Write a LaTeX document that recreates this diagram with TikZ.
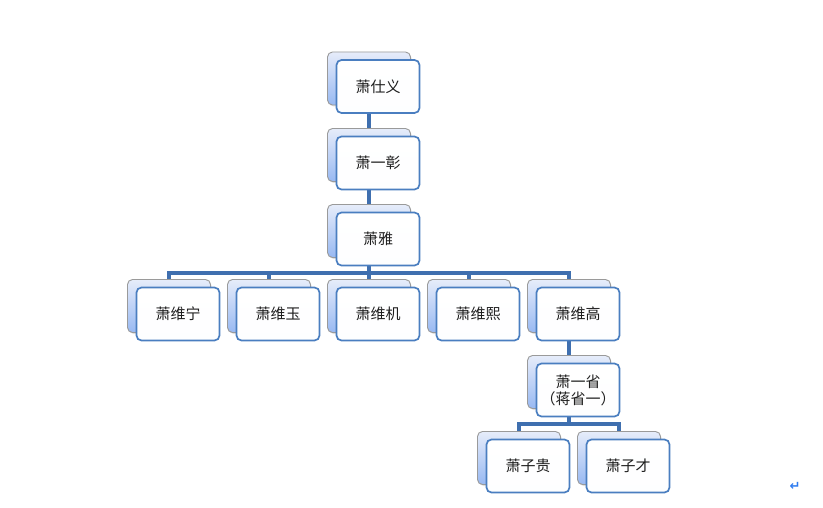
\documentclass[tikz,border=0pt]{standalone}
\usepackage{fontspec}
\newfontfamily\cjk{Noto Sans CJK SC}
\newfontfamily\dejavu{DejaVu Sans}
\usetikzlibrary{calc,shadows}
\definecolor{connblue}{HTML}{3F6FAF}
\definecolor{frontblue}{HTML}{4A7EC0}
\definecolor{backgray}{HTML}{9A9A9A}
\definecolor{backtop}{HTML}{E6ECFA}
\definecolor{backbot}{HTML}{98B9F2}
\definecolor{txt}{HTML}{1E1E1E}
\definecolor{retblue}{HTML}{2F7CF0}
\tikzset{
  backbox/.style={draw=backgray, line width=0.9pt, rounded corners=5pt,
    minimum width=83pt, minimum height=53pt, inner sep=0pt,
    top color=backtop, bottom color=backbot,
    drop shadow={shadow xshift=1.2pt, shadow yshift=-1.5pt, opacity=0.25}},
  frontbox/.style={draw=frontblue, line width=1.7pt, rounded corners=5pt,
    minimum width=83pt, minimum height=53pt, inner sep=0pt,
    top color=white, bottom color=white!93!backtop,
    font=\cjk\fontsize{15pt}{17pt}\selectfont, text=txt, align=center},
  conn/.style={draw=connblue, line width=3.2pt}
}
\begin{document}
\begin{tikzpicture}[x=1pt,y=-1pt]
\path[use as bounding box, fill=white] (0,0) rectangle (823,508);
\foreach \n/\x/\y in {a/378/86.5, b/378/163, c/378/239,
  d1/178/314, d2/278/314, d3/378/314, d4/478/314, d5/578/314,
  e/578/390, f1/528/466, f2/628/466}{
  \coordinate (\n-c) at (\x-9,\y-8);
}
\foreach \n in {a,b,c,d1,d2,d3,d4,d5,e,f1,f2}{
  \path (\n-c) node[minimum width=83pt, minimum height=53pt, inner sep=0pt] (\n-b) {};
}
\coordinate (bus1) at (0,273);
\coordinate (bus2) at (0,424);
% connectors
\draw[conn] (a-b.south) -- (b-b.north);
\draw[conn] (b-b.south) -- (c-b.north);
\foreach \k in {d1,d2,d3,d4,d5}{
  \draw[conn] (c-b.south) -- (c-b.south |- bus1) -| (\k-b.north);
}
\draw[conn] (d5-b.south) -- (e-b.north);
\foreach \k in {f1,f2}{
  \draw[conn] (e-b.south) -- (e-b.south |- bus2) -| (\k-b.north);
}
% boxes
\foreach \n/\x/\y/\t in {a/378/86.5/萧仕义, b/378/163/萧一彰, c/378/239/萧雅,
  d1/178/314/萧维宁, d2/278/314/萧维玉, d3/378/314/萧维机, d4/478/314/萧维熙, d5/578/314/萧维高,
  e/578/390/{萧一省\\（蒋省一）}, f1/528/466/萧子贵, f2/628/466/萧子才}{
  \node[backbox] at (\n-c) {};
  \node[frontbox] (\n) at (\x,\y) {\t};
}
\node[text=retblue, font=\dejavu\bfseries\fontsize{13pt}{13pt}\selectfont, inner sep=0pt] (ret) at (795,486) {↵};
\end{tikzpicture}
\end{document}
